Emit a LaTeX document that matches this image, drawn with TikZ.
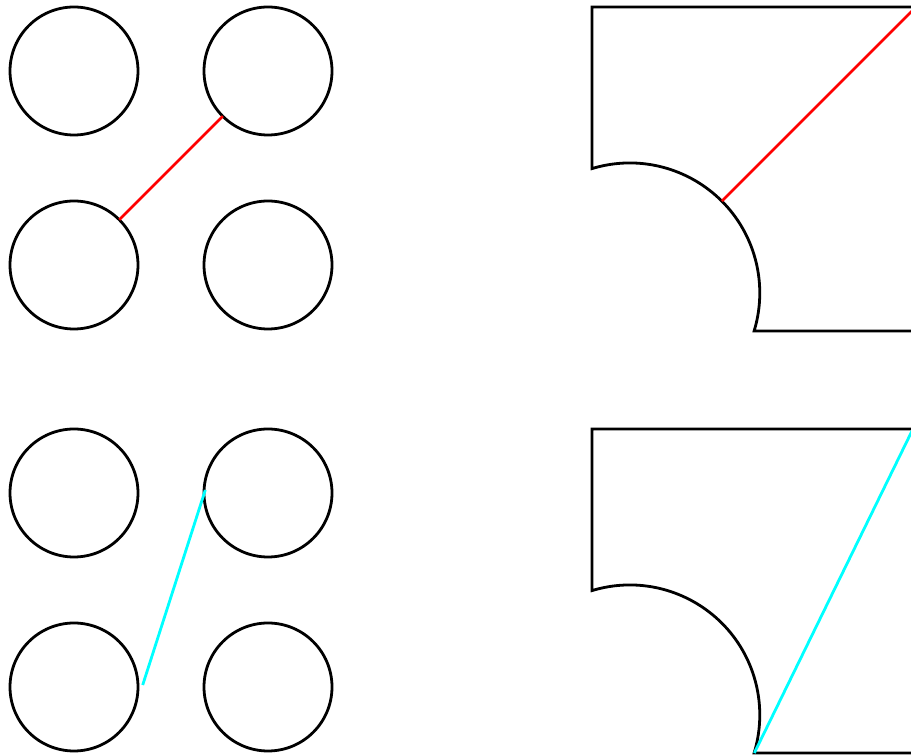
\documentclass[tikz,border=0pt]{standalone}
\usetikzlibrary{calc}
\definecolor{aqua}{RGB}{0,255,255}
\definecolor{pured}{RGB}{255,0,0}
\begin{document}
\begin{tikzpicture}[x=1pt,y=1pt,
  ring/.style={circle,draw=black,line width=2.8pt,minimum size=128pt,inner sep=0pt,outer sep=0pt},
  outline/.style={draw=black,line width=2.8pt,line join=miter},
  redline/.style={draw=pured,line width=2.8pt},
  cyanline/.style={draw=aqua,line width=2.8pt}]
\useasboundingbox (0,0) rectangle (911,755);
\clip (0,0) rectangle (911,755);
% top-left group
\node[ring] (a1) at (74,684) {};
\node[ring] (a2) at (268,684) {};
\node[ring] (a3) at (74,490) {};
\node[ring] (a4) at (268,490) {};
\draw[redline] (a3.45) -- (a2.225);
% bottom-left group
\node[ring] (b1) at (74,262) {};
\node[ring] (b2) at (268,262) {};
\node[ring] (b3) at (74,68) {};
\node[ring] (b4) at (268,68) {};
\coordinate (bs) at (142.7,70);
\coordinate (be) at (205.3,265);
\draw[cyanline] (bs) -- (be);
% top-right shape
\draw[outline] (940,748) -- (592,748) -- (592,586.4) arc[start angle=106.9,end angle=-17,radius=130] -- (940,424);
\coordinate (ra) at ({630+130*cos(45)},{462+130*sin(45)});
\coordinate (rb) at ({630+130*cos(45)+240},{462+130*sin(45)+240});
\draw[redline] (ra) -- (rb);
% bottom-right shape
\draw[outline] (940,326) -- (592,326) -- (592,164.4) arc[start angle=106.9,end angle=-17,radius=130] -- (940,2);
\coordinate (ca) at ({630+130*cos(-17)},{40-130*sin(17)});
\coordinate (cb) at (911,322);
\draw[cyanline] (ca) -- ($(ca)!1.05!(cb)$);
\end{tikzpicture}
\end{document}
